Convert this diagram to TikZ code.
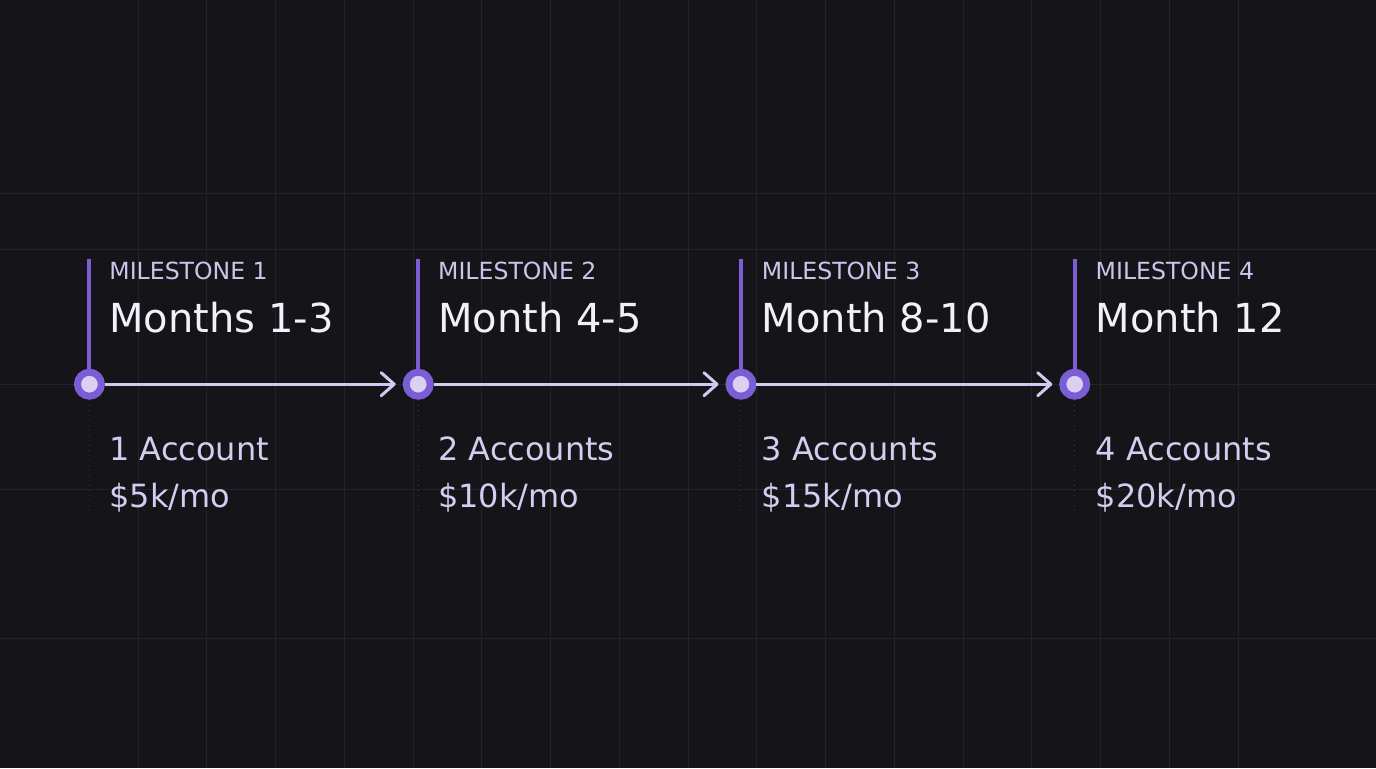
\documentclass[tikz,border=0pt]{standalone}
\usepackage{fontspec}
\setmainfont{DejaVu Sans}
\usepackage{xcolor}
\usepackage{tikz}
\usetikzlibrary{positioning,arrows.meta}

\definecolor{bgdark}{RGB}{20,20,25}
\definecolor{gridline}{RGB}{34,34,42}
\definecolor{stempurple}{RGB}{123,94,214}
\definecolor{dotfill}{RGB}{218,208,242}
\definecolor{axislav}{RGB}{212,200,240}
\definecolor{labellav}{RGB}{205,195,235}
\definecolor{titlewhite}{RGB}{242,240,248}
\definecolor{textlav}{RGB}{214,204,240}
\definecolor{guidegray}{RGB}{52,52,60}

\begin{document}
\begin{tikzpicture}[x=0.5pt, y=-0.5pt]

\tikzstyle{every node}=[inner sep=0, outer sep=0]
\tikzstyle{dot}=[circle, fill=dotfill, draw=stempurple, line width=3.5pt, minimum size=12pt, outer sep=1.75pt]
\tikzstyle{tag}=[anchor=base west, text=labellav, font=\fontsize{11.8}{14}\selectfont]
\tikzstyle{headline}=[anchor=base west, text=titlewhite, font=\fontsize{20}{24}\selectfont]
\tikzstyle{info}=[anchor=base west, align=left, text=textlav, font=\fontsize{16}{23.5}\selectfont]
\tikzstyle{flow}=[-{Straight Barb[length=6.5pt, width=11.5pt, round]}, axislav, line width=1.5pt, shorten >=3.5pt]
\tikzstyle{stem}=[stempurple, line width=2pt]
\tikzstyle{guide}=[guidegray, dotted, line width=0.5pt]

% background %
\fill[bgdark] (0,0) rectangle (1376,768);
\foreach \k in {2,...,18}
  \draw[gridline, line width=0.5pt] (68.8*\k,0) -- (68.8*\k,768);
\foreach \y in {193,249,384,489,638}
  \draw[gridline, line width=0.5pt] (0,\y) -- (1376,\y);

% nodes %
\node[dot] (m1) at (89,384) {};
\node[dot] (m2) at (418,384) {};
\node[dot] (m3) at (741,384) {};
\node[dot] (m4) at (1075,384) {};

\coordinate (t1) at (89,259);
\coordinate (t2) at (418,259);
\coordinate (t3) at (741,259);
\coordinate (t4) at (1075,259);

\coordinate (b1) at (89,512);
\coordinate (b2) at (418,512);
\coordinate (b3) at (741,512);
\coordinate (b4) at (1075,512);

% texts %
\node[tag] (l1) at (109,279) {MILESTONE 1};
\node[headline] (h1) at (109,332) {Months 1-3};
\node[info] (i1) at (109,507) {1 Account\\\$5k/mo};

\node[tag] (l2) at (438,279) {MILESTONE 2};
\node[headline] (h2) at (438,332) {Month 4-5};
\node[info] (i2) at (438,507) {2 Accounts\\\$10k/mo};

\node[tag] (l3) at (762,279) {MILESTONE 3};
\node[headline] (h3) at (762,332) {Month 8-10};
\node[info] (i3) at (762,507) {3 Accounts\\\$15k/mo};

\node[tag] (l4) at (1096,279) {MILESTONE 4};
\node[headline] (h4) at (1096,332) {Month 12};
\node[info] (i4) at (1096,507) {4 Accounts\\\$20k/mo};

% edges %
\draw[stem] (t1) -- (m1);
\draw[stem] (t2) -- (m2);
\draw[stem] (t3) -- (m3);
\draw[stem] (t4) -- (m4);

\draw[guide] (m1) -- (b1);
\draw[guide] (m2) -- (b2);
\draw[guide] (m3) -- (b3);
\draw[guide] (m4) -- (b4);

\draw[flow] (m1) -- (m2);
\draw[flow] (m2) -- (m3);
\draw[flow] (m3) -- (m4);

\end{tikzpicture}
\end{document}
